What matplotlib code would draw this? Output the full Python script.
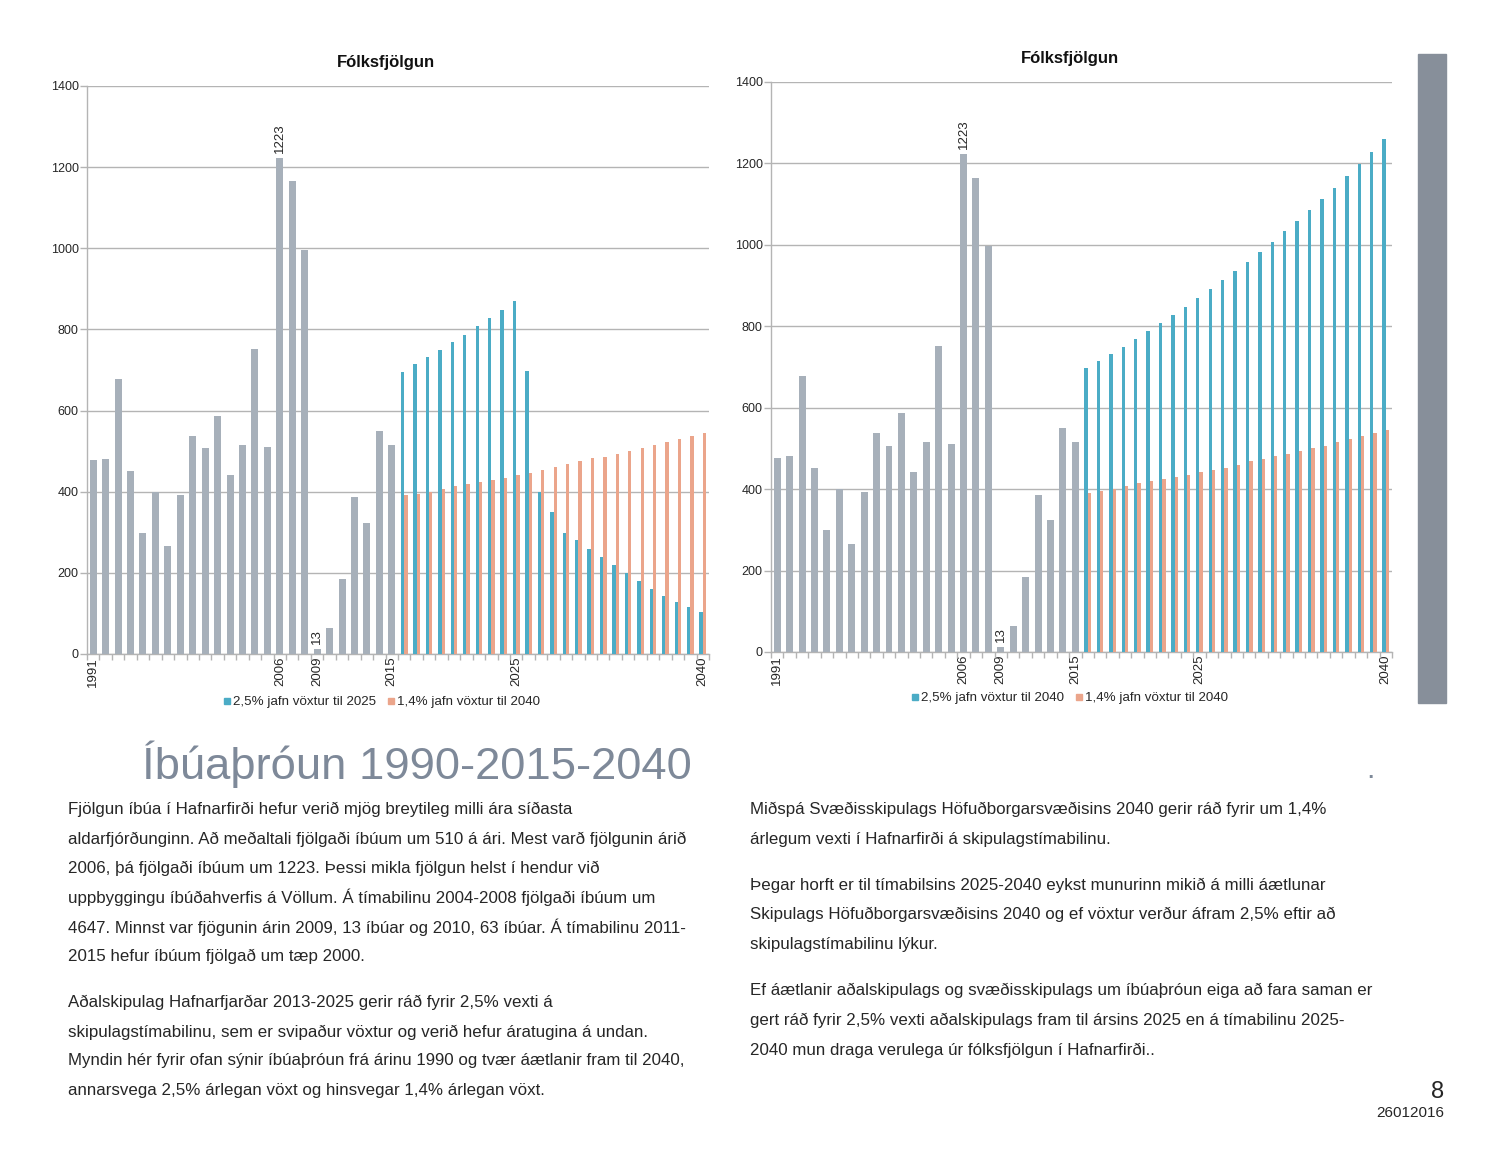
import matplotlib
matplotlib.use("Agg")
import matplotlib.pyplot as plt
from matplotlib.lines import Line2D
from matplotlib.patches import Rectangle
import numpy as np

# ---------------- data ----------------
hist_years = list(range(1991, 2016))
hist_values = [477, 481, 677, 451, 299, 400, 265, 393, 537, 507, 587, 442, 515, 752,
               510, 1223, 1165, 997, 13, 63, 185, 386, 323, 549, 516]
proj_years = list(range(2016, 2041))
blue_left = [696, 715, 732, 750, 769, 787, 808, 828, 847, 869, 698, 400, 350, 299, 281,
             260, 239, 219, 200, 181, 159, 142, 129, 115, 104]
blue_right = [697, 715, 732, 750, 769, 788, 808, 828, 848, 869, 891, 913, 936, 959, 983,
              1008, 1033, 1059, 1085, 1112, 1140, 1169, 1199, 1228, 1260]
orange = [391, 395, 400, 407, 414, 419, 424, 430, 435, 441, 447, 453, 460, 468, 475,
          482, 486, 494, 500, 507, 515, 523, 531, 537, 545]
labeled_years = [1991, 2006, 2009, 2015, 2025, 2040]
annotated = {2006: "1223", 2009: "13"}
chart_title = "Fólksfjölgun"
legend_left = ["2,5% jafn vöxtur til 2025", "1,4% jafn vöxtur til 2040"]
legend_right = ["2,5% jafn vöxtur til 2040", "1,4% jafn vöxtur til 2040"]

heading = "Íbúaþróun 1990-2015-2040"
left_par1 = ["Fjölgun íbúa í Hafnarfirði hefur verið mjög breytileg milli ára síðasta",
             "aldarfjórðunginn. Að meðaltali fjölgaði íbúum um 510 á ári. Mest varð fjölgunin árið",
             "2006, þá fjölgaði íbúum um 1223. Þessi mikla fjölgun helst í hendur við",
             "uppbyggingu íbúðahverfis á Völlum. Á tímabilinu 2004-2008 fjölgaði íbúum um",
             "4647. Minnst var fjögunin árin 2009, 13 íbúar og 2010, 63 íbúar. Á tímabilinu 2011-",
             "2015 hefur íbúum fjölgað um tæp 2000."]
left_par2 = ["Aðalskipulag Hafnarfjarðar 2013-2025 gerir ráð fyrir 2,5% vexti á",
             "skipulagstímabilinu, sem er svipaður vöxtur og verið hefur áratugina á undan.",
             "Myndin hér fyrir ofan sýnir íbúaþróun frá árinu 1990 og tvær áætlanir fram til 2040,",
             "annarsvega 2,5% árlegan vöxt og hinsvegar 1,4% árlegan vöxt."]
right_par1 = ["Miðspá Svæðisskipulags Höfuðborgarsvæðisins 2040 gerir ráð fyrir um 1,4%",
              "árlegum vexti í Hafnarfirði á skipulagstímabilinu."]
right_par2 = ["Þegar horft er til tímabilsins 2025-2040 eykst munurinn mikið á milli áætlunar",
              "Skipulags Höfuðborgarsvæðisins 2040 og ef vöxtur verður áfram 2,5% eftir að",
              "skipulagstímabilinu lýkur."]
right_par3 = ["Ef áætlanir aðalskipulags og svæðisskipulags um íbúaþróun eiga að fara saman er",
              "gert ráð fyrir 2,5% vexti aðalskipulags fram til ársins 2025 en á tímabilinu 2025-",
              "2040 mun draga verulega úr fólksfjölgun í Hafnarfirði.."]
page_no = "8"
date_code = "26012016"

# ---------------- style ----------------
GRAY = "#a7b0ba"
BLUE = "#4bacc6"
ORANGE = "#eba58b"
GRID = "#b4b4b4"
HEAD = "#7e8999"
TXT = "#262626"
plt.rcParams['font.family'] = ['Liberation Sans', 'DejaVu Sans']

W, H = 1500, 1160
fig = plt.figure(figsize=(W / 100, H / 100), dpi=100)


def fx(x):
    return x / W


def fy(y):
    return 1 - y / H


def draw_chart(rect, blue_vals, legend_labels, title_xy, legend_xy):
    x0, y0, x1, y1 = rect
    ax = fig.add_axes([fx(x0), fy(y1), fx(x1 - x0), (y1 - y0) / H])
    all_years = hist_years + proj_years
    idx = {yr: i for i, yr in enumerate(all_years)}
    hx = np.array([idx[y] for y in hist_years])
    px = np.array([idx[y] for y in proj_years])
    ax.bar(hx, hist_values, width=0.56, color=GRAY, zorder=3)
    ax.bar(px - 0.135, blue_vals, width=0.27, color=BLUE, zorder=3)
    ax.bar(px + 0.135, orange, width=0.27, color=ORANGE, zorder=3)
    for yr, lab in annotated.items():
        v = hist_values[hist_years.index(yr)]
        ax.text(idx[yr], v + 12, lab, rotation=90, ha='center', va='bottom',
                fontsize=9.5, color=TXT)
    ax.set_xlim(-0.5, len(all_years) - 0.5)
    ax.set_ylim(0, 1400)
    ax.set_yticks(range(0, 1401, 200))
    ax.set_yticklabels([str(v) for v in range(0, 1401, 200)], fontsize=9, color=TXT)
    ax.yaxis.grid(True, color=GRID, lw=1.0, zorder=0)
    ax.set_axisbelow(True)
    ax.tick_params(axis='y', length=5, width=1.0, color=GRID, pad=1)
    ax.set_xticks([idx[y] for y in labeled_years])
    ax.set_xticklabels([str(y) for y in labeled_years], rotation=90, fontsize=9.5, color=TXT)
    ax.tick_params(axis='x', length=0, pad=2)
    ax.set_xticks(np.arange(-0.5, len(all_years), 1.0), minor=True)
    ax.tick_params(axis='x', which='minor', length=4, width=1.0, color=GRID)
    for s in ['top', 'right']:
        ax.spines[s].set_visible(False)
    for s in ['left', 'bottom']:
        ax.spines[s].set_color(GRID)
        ax.spines[s].set_linewidth(1.0)
    fig.text(fx(title_xy[0]), fy(title_xy[1]), chart_title, ha='center', va='center',
             fontsize=12, fontweight='bold', color='#111111')
    handles = [Line2D([], [], ls='none', marker='s', markersize=4, color=BLUE),
               Line2D([], [], ls='none', marker='s', markersize=4, color=ORANGE)]
    fig.legend(handles, legend_labels, loc='center', ncol=2, frameon=False,
               bbox_to_anchor=(fx(legend_xy[0]), fy(legend_xy[1])), fontsize=9.6,
               handlelength=0.4, handletextpad=0.25, columnspacing=0.9,
               labelcolor=TXT)
    return ax


draw_chart((87, 86, 709, 654), blue_left, legend_left, (386, 63), (382, 702))
draw_chart((771, 82, 1392, 652), blue_right, legend_right, (1070, 59), (1070, 698))

# right gray band
fig.patches.append(Rectangle((fx(1418), fy(703)), fx(28), (703 - 54) / H,
                             transform=fig.transFigure, color="#878f9a", zorder=0))

# heading
fig.text(fx(142), fy(764), heading, ha='left', va='center', fontsize=32.7,
         color=HEAD)
fig.text(fx(1370), fy(770), ".", ha='center', va='center', fontsize=22, color=HEAD)

BODY = dict(ha='left', va='center', fontsize=12.2, color=TXT)


def block(x, ys, lines):
    for y, ln in zip(ys, lines):
        fig.text(fx(x), fy(y), ln, **BODY)


block(68, [809, 839, 868, 897, 927, 956], left_par1)
block(68, [1002, 1032, 1061, 1090], left_par2)
block(750, [809, 839], right_par1)
block(750, [885, 914, 944], right_par2)
block(750, [990, 1020, 1050], right_par3)

fig.text(fx(1444), fy(1092), page_no, ha='right', va='center', fontsize=17, color=TXT)
fig.text(fx(1444), fy(1113), date_code, ha='right', va='center', fontsize=11, color=TXT)

fig.savefig("out.png", dpi=100)
